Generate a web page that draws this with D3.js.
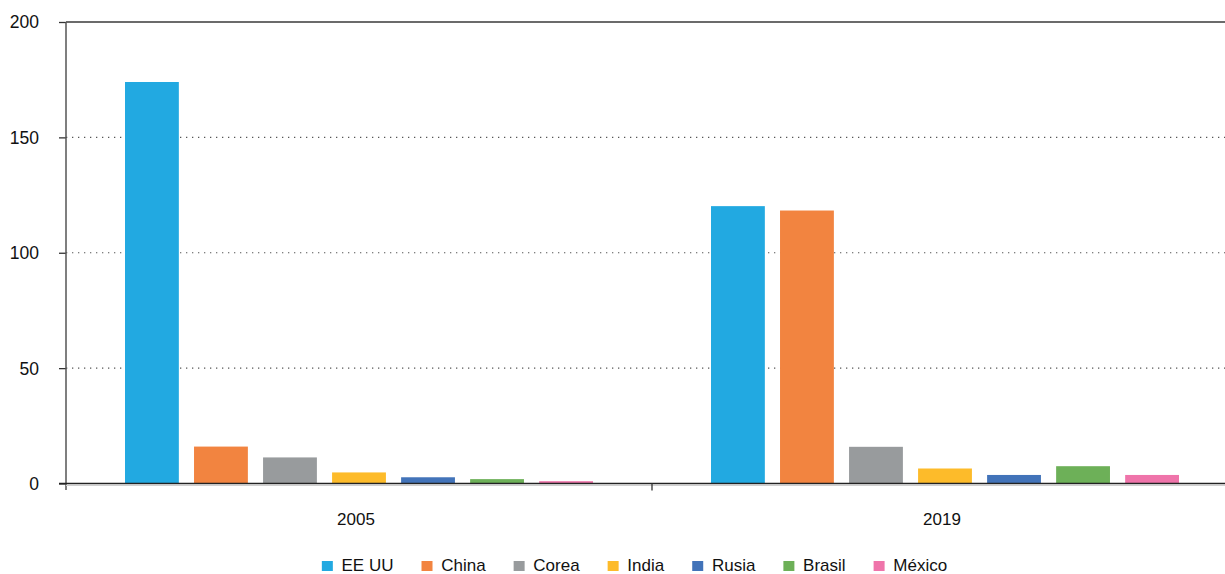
<!DOCTYPE html>
<html>
<head>
<meta charset="utf-8">
<script src="https://cdn.jsdelivr.net/npm/d3@7"></script>
<style>
html,body{margin:0;padding:0;background:#fff;}
svg text{font-family:"Liberation Sans",Arial,sans-serif;fill:#111;}
</style>
</head>
<body>
<svg id="chart" width="1225" height="574"></svg>
<script>
const years = ["2005", "2019"];
const countries = ["EE UU", "China", "Corea", "India", "Rusia", "Brasil", "México"];
const colors = ["#22a9e1", "#f28440", "#989b9d", "#fdbb2a", "#4273b9", "#6db058", "#ef74aa"];
const values2005 = [174.0, 16.0, 11.3, 4.8, 2.7, 1.9, 1.0];
const values2019 = [120.2, 118.3, 15.9, 6.5, 3.7, 7.5, 3.7];
const yTicks = [0, 50, 100, 150, 200];

const seriesByYear = { "2005": values2005, "2019": values2019 };

const svg = d3.select("#chart");
const W = 1225;
const axisX = 66;

const y = d3.scaleLinear().domain([0, 200]).range([483.5, 22]);
const x0 = d3.scaleBand().domain(years).range([axisX, 1238]).paddingInner(0).paddingOuter(0);
const x1 = d3.scaleBand().domain(countries).range([59, 527]).paddingInner(0.22).paddingOuter(0);
const color = d3.scaleOrdinal().domain(countries).range(colors);

// gridlines
const grid = svg.append("g");
yTicks.forEach(t => {
  if (t === 0) return;
  const line = grid.append("line")
    .attr("x1", axisX).attr("x2", W)
    .attr("y1", y(t)).attr("y2", y(t));
  if (t === 200) {
    line.attr("stroke", "#3a3a3a").attr("stroke-width", 1.3);
  } else {
    line.attr("stroke", "#555").attr("stroke-width", 1.2).attr("stroke-dasharray", "1.3,4.7");
  }
});

// bars
const groups = svg.append("g").selectAll("g").data(years).join("g")
  .attr("transform", d => `translate(${x0(d)},0)`);
groups.selectAll("rect")
  .data(yr => countries.map((c, i) => ({ c, v: seriesByYear[yr][i] })))
  .join("rect")
  .attr("x", d => x1(d.c))
  .attr("width", x1.bandwidth())
  .attr("y", d => y(d.v))
  .attr("height", d => y(0) - y(d.v))
  .attr("fill", d => color(d.c));

// y axis
const yAxis = d3.axisLeft(y).tickValues(yTicks).tickSize(7).tickFormat(d3.format("d"));
const gy = svg.append("g").attr("transform", `translate(${axisX},0)`).call(yAxis);
gy.select(".domain").remove();
gy.selectAll(".tick line").attr("stroke", "#333").attr("stroke-width", 1.3);
gy.selectAll(".tick text")
  .attr("x", -27).attr("dy", "0.34em")
  .style("font-size", "17.5px").style("font-family", "Liberation Sans, Arial, sans-serif")
  .attr("fill", "#111");
svg.append("line").attr("x1", axisX).attr("x2", axisX).attr("y1", 22).attr("y2", 490)
  .attr("stroke", "#555").attr("stroke-width", 1.5);

// x axis (zero line)
svg.append("line").attr("x1", axisX).attr("x2", W).attr("y1", y(0) + 2).attr("y2", y(0) + 2)
  .attr("stroke", "#cfcfcf").attr("stroke-width", 1.2);
svg.append("line").attr("x1", 59).attr("x2", W).attr("y1", y(0)).attr("y2", y(0))
  .attr("stroke", "#222").attr("stroke-width", 1.4);
const xAxis = d3.axisBottom(x0).tickSize(0);
const gx = svg.append("g").attr("transform", `translate(0,${y(0)})`).call(xAxis);
gx.select(".domain").remove();
gx.selectAll(".tick text")
  .attr("y", 41).attr("dy", 0).attr("dx", -3)
  .style("font-size", "17px").style("font-family", "Liberation Sans, Arial, sans-serif")
  .attr("fill", "#111");
// separator tick between categories
svg.append("line").attr("x1", x0("2019")).attr("x2", x0("2019"))
  .attr("y1", y(0)).attr("y2", y(0) + 7).attr("stroke", "#333").attr("stroke-width", 1.3);

// legend
const legend = svg.append("g");
let cx = 0;
const legendGap = 28;
countries.forEach((c, i) => {
  const g = legend.append("g");
  g.append("rect").attr("x", 0).attr("y", 561).attr("width", 11).attr("height", 10).attr("fill", colors[i]);
  const t = g.append("text").attr("x", 19.7).attr("y", 571.3).text(c)
    .style("font-size", "17px");
  const w = t.node().getComputedTextLength();
  g.attr("transform", `translate(${cx},0)`);
  cx += 19.7 + w + legendGap;
});
const totalW = cx - legendGap;
legend.attr("transform", `translate(${634.5 - totalW / 2},0)`);
</script>
</body>
</html>
